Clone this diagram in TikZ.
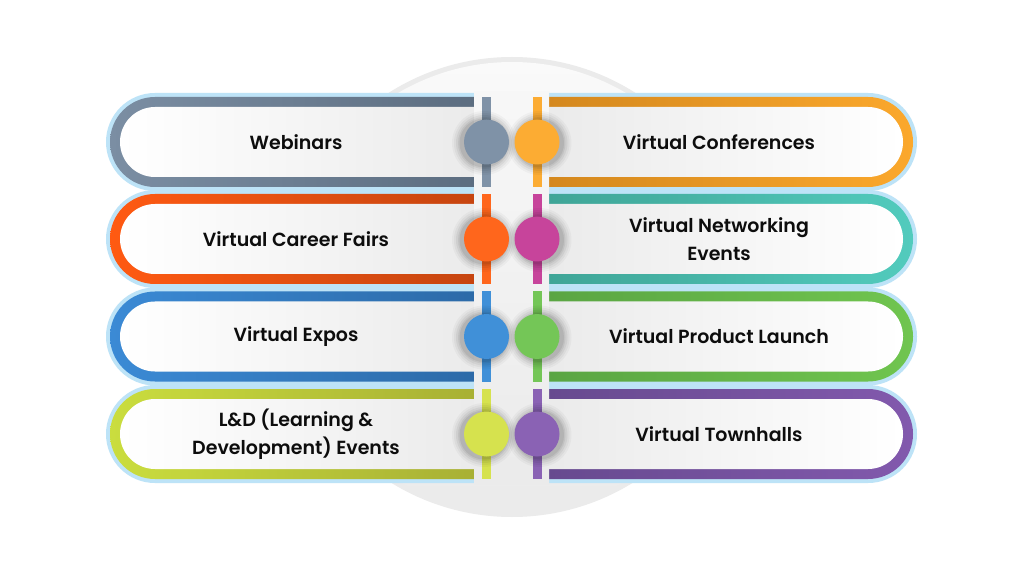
\documentclass[tikz,border=0pt]{standalone}
\usepackage{fontspec}
\setmainfont{Poppins}[UprightFont=* SemiBold]
\definecolor{halo}{HTML}{BDE3F7}
\definecolor{aL}{HTML}{7B8EA3}\definecolor{aD}{HTML}{5C6D80}\definecolor{aC}{HTML}{7F92A7}
\definecolor{bL}{HTML}{FBA82C}\definecolor{bD}{HTML}{D4881E}\definecolor{bC}{HTML}{FCAC33}
\definecolor{cL}{HTML}{FF5A12}\definecolor{cD}{HTML}{C64510}\definecolor{cC}{HTML}{FF661C}
\definecolor{dL}{HTML}{52CBBD}\definecolor{dD}{HTML}{3FA597}\definecolor{dC}{HTML}{C7449B}
\definecolor{eL}{HTML}{3B8AD5}\definecolor{eD}{HTML}{2C6AA8}\definecolor{eC}{HTML}{4090D8}
\definecolor{fL}{HTML}{70C54F}\definecolor{fD}{HTML}{5AA543}\definecolor{fC}{HTML}{74C657}
\definecolor{gL}{HTML}{CADD3E}\definecolor{gD}{HTML}{A8B034}\definecolor{gC}{HTML}{D6E24E}
\definecolor{hL}{HTML}{8259AD}\definecolor{hD}{HTML}{674A8F}\definecolor{hC}{HTML}{8A62B4}
\tikzset{
  lbl/.style={align=center,text=black!95,font=\fontsize{19}{28}\selectfont,inner sep=0pt},
  dot/.style={circle,minimum size=45pt,inner sep=0pt}
}
\begin{document}
\begin{tikzpicture}[x=1pt,y=1pt]
\useasboundingbox (0,0) rectangle (1024,576);
\fill[white] (0,0) rectangle (1024,576);
% background disc
\fill[black!8] (512,289) circle (230);
\shade[top color=black!2,bottom color=black!8] (512,289) circle (225);
% pills
\foreach \Y/\l/\r in {434/a/b,337/c/d,239.5/e/f,142/g/h}{
  % left
  \fill[halo] (476,\Y+49) -- (155,\Y+49) arc(90:270:49) -- (476,\Y-49) -- cycle;
  \shade[left color=\l L,right color=\l D] (476,\Y+45) -- (155,\Y+45) arc(90:270:45) -- (476,\Y-45) -- cycle;
  \shade[left color=white,right color=black!8] (476,\Y+35) -- (155,\Y+35) arc(90:270:35) -- (476,\Y-35) -- cycle;
  % right
  \fill[halo] (548,\Y+49) -- (868,\Y+49) arc(90:-90:49) -- (548,\Y-49) -- cycle;
  \shade[left color=\r D,right color=\r L] (548,\Y+45) -- (868,\Y+45) arc(90:-90:45) -- (548,\Y-45) -- cycle;
  \shade[left color=black!8,right color=white] (548,\Y+35) -- (868,\Y+35) arc(90:-90:35) -- (548,\Y-35) -- cycle;
}
% central strip
\shade[top color=black!3,bottom color=black!8] (474,92) rectangle (549,484);
\foreach \Y/\l/\r/\n in {434/a/b/1,337/c/d/2,239.5/e/f/3,142/g/h/4}{
  \fill[\l C] (482,\Y-45) rectangle (491,\Y+45);
  \fill[\r C] (532.5,\Y-45) rectangle (541.5,\Y+45);
  \foreach \rr/\oo in {32/0.03,30/0.04,28/0.05,26/0.06,24.5/0.07}{
    \fill[black,opacity=\oo] (484,\Y-1) circle (\rr);
    \fill[black,opacity=\oo] (539.5,\Y-1) circle (\rr);
  }
  \node[dot,fill=\l C] (L\n) at (486.5,\Y) {};
  \node[dot,fill=\r C] (R\n) at (537,\Y) {};
}
% labels
\node[lbl] (t1) at (296,434) {Webinars};
\node[lbl] (t2) at (296,337) {Virtual Career Fairs};
\node[lbl] (t3) at (296,239.5) {Virtual Expos};
\node[lbl] (t4) at (296,142) {L\&D (Learning \&\\Development) Events};
\node[lbl] (u1) at (719,434) {Virtual Conferences};
\node[lbl] (u2) at (719,337) {Virtual Networking\\Events};
\node[lbl] (u3) at (719,239.5) {Virtual Product Launch};
\node[lbl] (u4) at (719,142) {Virtual Townhalls};
\end{tikzpicture}
\end{document}
